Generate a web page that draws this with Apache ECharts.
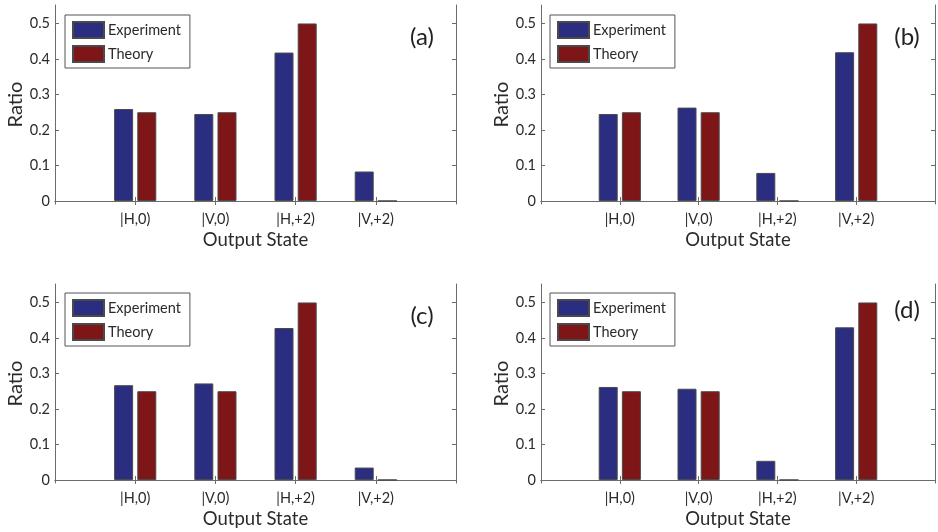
<!DOCTYPE html>
<html>
<head>
<meta charset="utf-8">
<script src="https://cdn.jsdelivr.net/npm/echarts@6/dist/echarts.min.js"></script>
<style>
  html, body { margin: 0; padding: 0; background: #fff; }
  #chart { width: 938px; height: 532px; }
</style>
</head>
<body>
<div id="chart"></div>
<script>
// categories (blank ends pad the axis like the matlab xlim [0 5])
const states = ['', '|H,0)', '|V,0)', '|H,+2)', '|V,+2)', ''];
const yTicks = [0, 0.1, 0.2, 0.3, 0.4, 0.5];
const panelLabels = ['(a)', '(b)', '(c)', '(d)'];

// measured ratios per panel
const expA = [0.259, 0.245, 0.418, 0.083];
const expB = [0.245, 0.263, 0.079, 0.419];
const expC = [0.267, 0.272, 0.428, 0.035];
const expD = [0.262, 0.257, 0.054, 0.430];
const theoryAC = [0.25, 0.25, 0.5, 0];
const theoryBD = [0.25, 0.25, 0, 0.5];

const expData = [expA, expB, expC, expD];
const theoryData = [theoryAC, theoryBD, theoryAC, theoryBD];

const BLUE = '#2b2e80';
const RED = '#7e1517';
const FONT = 'Lato';

// panel layout
const panels = [
  { left: 55, top: 5, lx: 65, ly: 15, tx: 417, ty: 20 },
  { left: 541, top: 5, lx: 550, ly: 15, tx: 902, ty: 20 },
  { left: 55, top: 284, lx: 65, ly: 293, tx: 417, ty: 299 },
  { left: 541, top: 284, lx: 550, ly: 293, tx: 902, ty: 293 }
];

const pad = v => [null].concat(v, [null]);
const tickShow = idx => idx > 0 && idx < states.length - 1;

const grid = [], xAxis = [], yAxis = [], series = [], legend = [], title = [];

panels.forEach((p, i) => {
  grid.push({ left: p.left, top: p.top, width: 401, height: 199 });
  const axisLine = { lineStyle: { color: '#6b6b6b', width: 1 } };
  // bottom axis
  xAxis.push({
    type: 'category', gridIndex: i, data: states, boundaryGap: false,
    axisLine: axisLine,
    axisTick: { inside: true, length: 4, interval: tickShow, lineStyle: { color: '#6b6b6b' } },
    axisLabel: { interval: 0, margin: 8, fontFamily: FONT, fontSize: 14.5, color: '#2a2a2a' },
    name: 'Output State', nameLocation: 'middle', nameGap: 27,
    nameTextStyle: { fontFamily: FONT, fontSize: 18.5, color: '#2a2a2a' }
  });
  // top axis (box + ticks)
  xAxis.push({
    type: 'category', gridIndex: i, data: states, boundaryGap: false, position: 'top',
    axisLine: axisLine,
    axisTick: { inside: true, length: 4, interval: tickShow, lineStyle: { color: '#6b6b6b' } },
    axisLabel: { show: false }
  });
  yAxis.push({
    type: 'value', gridIndex: i, min: -0.0085, max: 0.552,
    splitLine: { show: false },
    axisLine: { show: true, lineStyle: { color: '#6b6b6b', width: 1 } },
    axisTick: { show: true, inside: true, length: 4, customValues: yTicks, lineStyle: { color: '#6b6b6b' } },
    axisLabel: { customValues: yTicks, margin: 5, fontFamily: FONT, fontSize: 14.5, color: '#2a2a2a' },
    name: 'Ratio', nameLocation: 'middle', nameRotate: 90, nameGap: 29,
    nameTextStyle: { fontFamily: FONT, fontSize: 20, color: '#2a2a2a' }
  });
  yAxis.push({
    type: 'value', gridIndex: i, min: -0.0085, max: 0.552, position: 'right',
    splitLine: { show: false },
    axisLine: { show: true, lineStyle: { color: '#6b6b6b', width: 1 } },
    axisTick: { show: true, inside: true, length: 4, customValues: yTicks, lineStyle: { color: '#6b6b6b' } },
    axisLabel: { show: false }
  });
  series.push({
    name: 'Experiment', type: 'bar', xAxisIndex: 2 * i, yAxisIndex: 2 * i,
    data: pad(expData[i]), barWidth: 19, barGap: '22%',
    itemStyle: { color: BLUE, borderColor: '#4a4a4a', borderWidth: 1 }
  });
  series.push({
    name: 'Theory', type: 'bar', xAxisIndex: 2 * i, yAxisIndex: 2 * i,
    data: pad(theoryData[i]), barWidth: 19, barGap: '22%',
    itemStyle: { color: RED, borderColor: '#4a4a4a', borderWidth: 1 }
  });
  legend.push({
    data: ['Experiment', 'Theory'], orient: 'vertical', left: p.lx, top: p.ly,
    icon: 'rect', itemWidth: 31, itemHeight: 16, itemGap: 6, selectedMode: false,
    padding: [6, 9, 5, 7], borderColor: '#555', borderWidth: 1,
    backgroundColor: '#fff',
    textStyle: { fontFamily: FONT, fontSize: 14.5, color: '#2a2a2a', padding: [0, 0, 0, -1] }
  });
  title.push({
    text: panelLabels[i], left: p.tx, top: p.ty, textAlign: 'center',
    textStyle: { fontFamily: FONT, fontSize: 24, fontWeight: 'normal', color: '#222' }
  });
});

const chart = echarts.init(document.getElementById('chart'), null, { renderer: 'canvas' });
chart.setOption({
  animation: false,
  backgroundColor: '#fff',
  title: title,
  legend: legend,
  grid: grid,
  xAxis: xAxis,
  yAxis: yAxis,
  series: series
});
</script>
</body>
</html>
